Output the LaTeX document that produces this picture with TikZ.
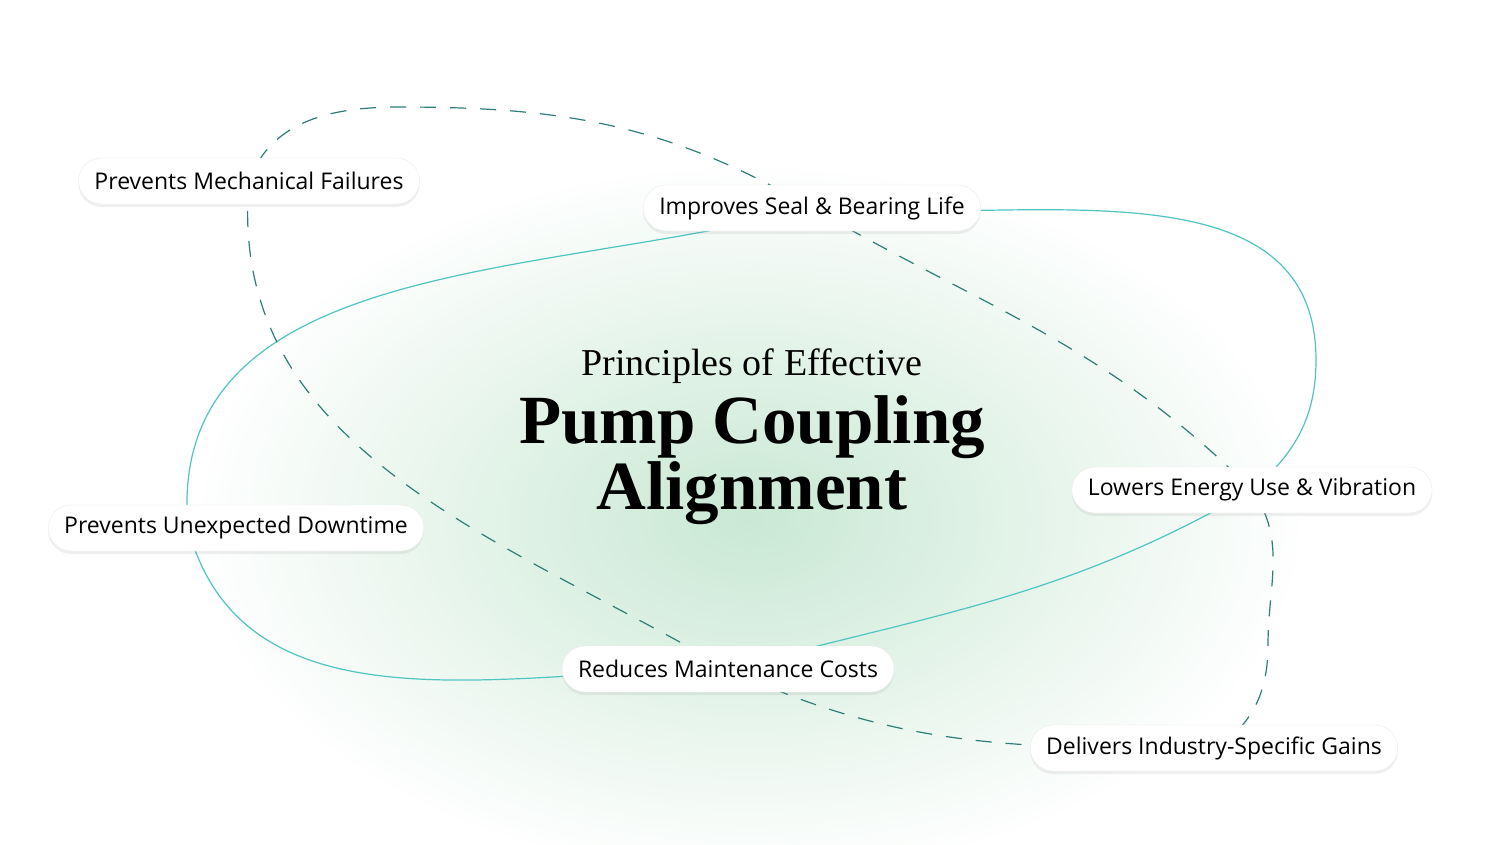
\documentclass[tikz,border=0pt]{standalone}
\usepackage{fontspec}
\setmainfont{Liberation Serif}
\newfontfamily\labelfont{Open Sans}
\usetikzlibrary{shadows}
\definecolor{loopteal}{HTML}{4FC4C0}
\definecolor{dashteal}{HTML}{2E7D78}
\definecolor{glowmint}{HTML}{C9E8D4}
\pgfdeclarelayer{background}
\pgfsetlayers{background,main}
\tikzset{
    pill/.style={draw=black!8, fill=white, rounded corners=23pt, minimum height=46pt,
        inner xsep=16pt, font=\labelfont\fontsize{23}{27}\selectfont,
        drop shadow={opacity=0.12, shadow xshift=0pt, shadow yshift=-3pt}},
    solidloop/.style={draw=loopteal, line width=1.2pt},
    dashloop/.style={draw=dashteal, line width=1.2pt, dash pattern=on 16pt off 14pt}
}
\begin{document}
\begin{tikzpicture}[x=1pt, y=-1pt]

    % Canvas
    \useasboundingbox (0,0) rectangle (1500,844);

    % Title
    \node (subtitle) at (752,366) {\fontsize{38}{42}\selectfont Principles of Effective};
    \node (title) at (752,460) [align=center]
        {\fontsize{69}{74}\selectfont\bfseries Pump Coupling\\[2pt]\fontsize{69}{74}\selectfont\bfseries Alignment};

    % Benefits
    \node[pill] (mech) at (249,181) {Prevents Mechanical Failures};
    \node[pill] (impr) at (812,208) {Improves Seal \& Bearing Life};
    \node[pill] (lowers) at (1252,490) {Lowers Energy Use \& Vibration};
    \node[pill] (downtime) at (236,528) {Prevents Unexpected Downtime};
    \node[pill] (reduces) at (728,669) {Reduces Maintenance Costs};
    \node[pill] (delivers) at (1214,748) {Delivers Industry-Specific Gains};

    \coordinate (rightbend) at (1316,360);
    \coordinate (leftbend) at (188,528);
    \coordinate (lowbend) at (1268,645);
    \coordinate (topbend) at (400,107);

    \begin{pgfonlayer}{background}
        % Glow
        \fill[white] (0,0) rectangle (1500,844);
        \shade[inner color=glowmint, outer color=white] (750,520) ellipse (560 and 360);
        % Solid loop
        \draw[solidloop] (impr.center) to[out=-5,in=90] (rightbend)
            to[out=-90,in=40] (lowers.center)
            to[out=-150,in=15] (reduces.center)
            to[out=180,in=-75] (leftbend)
            to[out=95,in=195] (impr.center);
        % Dashed loop
        \draw[dashloop] (mech.center) to[out=-95,in=150] (reduces.center)
            to[out=-25,in=180] (delivers.center)
            to[out=30,in=-90] (lowbend)
            to[out=90,in=-55] (lowers.center)
            to[out=135,in=-30] (impr.center)
            to[out=150,in=0] (topbend)
            to[out=180,in=70] (mech.center);
    \end{pgfonlayer}

\end{tikzpicture}
\end{document}
